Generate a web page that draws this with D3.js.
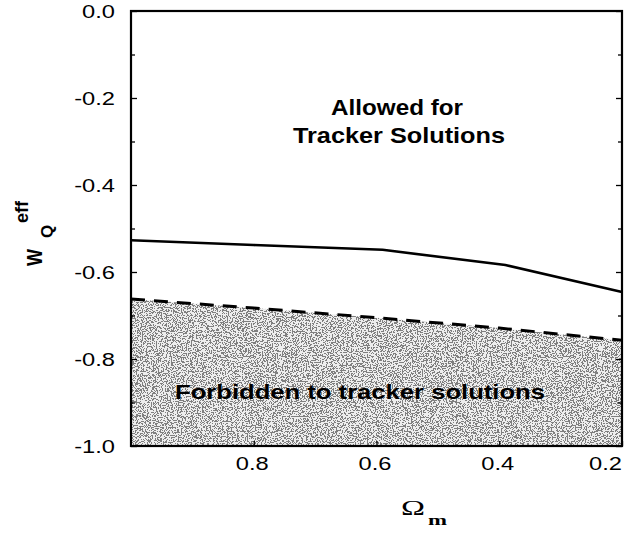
<!DOCTYPE html>
<html><head><meta charset="utf-8">
<script src="https://cdn.jsdelivr.net/npm/d3@7"></script>
<style>body{margin:0;background:#fff}svg{display:block}</style>
</head><body>
<svg id="c" width="626" height="537"></svg>
<script>
// ---- data ----
const solidOmega = [1.0, 0.8, 0.59, 0.39, 0.2];
const solidW     = [-0.527, -0.538, -0.549, -0.584, -0.646];
const dashOmega  = [1.0, 0.8, 0.6, 0.4, 0.2];
const dashW      = [-0.662, -0.683, -0.705, -0.729, -0.757];
const yMajorTicks = [0, -0.2, -0.4, -0.6, -0.8, -1.0];
const yTickLabels = ["0.0", "-0.2", "-0.4", "-0.6", "-0.8", "-1.0"];
const yMinorTicks = [-0.1, -0.3, -0.5, -0.7, -0.9];
const xTicks = [0.8, 0.6, 0.4, 0.2];
const xTickLabels = ["0.8", "0.6", "0.4", "0.2"];
const allowedText = ["Allowed for", "Tracker Solutions"];
const forbiddenText = "Forbidden to tracker solutions";

const svg = d3.select("#c");
const L = 131, R = 622, T = 11, B = 446;
const x = d3.scaleLinear().domain([1.0, 0.2]).range([L, R]);
const y = d3.scaleLinear().domain([0, -1.0]).range([T, B]);

// stipple filter
const defs = svg.append("defs");
const f = defs.append("filter").attr("id","grain").attr("x",0).attr("y",0).attr("width",1).attr("height",1)
  .attr("color-interpolation-filters","sRGB");
f.append("feTurbulence").attr("type","fractalNoise").attr("baseFrequency","0.8").attr("numOctaves",3).attr("seed",11).attr("result","n");
f.append("feColorMatrix").attr("in","n").attr("type","matrix")
  .attr("values","1 0 0 0 0.03  1 0 0 0 0.03  1 0 0 0 0.03  0 0 0 0 1").attr("result","g");
const ct = f.append("feComponentTransfer").attr("in","g").attr("result","d");
["feFuncR","feFuncG","feFuncB"].forEach(fn=>ct.append(fn).attr("type","discrete").attr("tableValues","0.5 0.93"));
f.append("feComposite").attr("in","d").attr("in2","SourceGraphic").attr("operator","in");
defs.append("clipPath").attr("id","clip").append("rect").attr("x",L).attr("y",T).attr("width",R-L).attr("height",B-T);

const dashData = dashOmega.map((o,i)=>({o, w: dashW[i]}));
const solidData = solidOmega.map((o,i)=>({o, w: solidW[i]}));

// shaded forbidden region
svg.append("path").datum(dashData)
  .attr("clip-path","url(#clip)")
  .attr("d", d3.area().x(d=>x(d.o)).y0(y(-1.0)).y1(d=>y(d.w)))
  .attr("fill","#bbb").attr("filter","url(#grain)");

// lines
svg.append("path").datum(solidData)
  .attr("d", d3.line().x(d=>x(d.o)).y(d=>y(d.w)))
  .attr("fill","none").attr("stroke","#000").attr("stroke-width",2.6);
svg.append("path").datum(dashData)
  .attr("d", d3.line().x(d=>x(d.o)).y(d=>y(d.w)))
  .attr("fill","none").attr("stroke","#000").attr("stroke-width",3).attr("stroke-dasharray","14,9");

// axes
const font = "'Liberation Sans', Arial, Helvetica, sans-serif";
const yAx = svg.append("g").attr("transform",`translate(${L},0)`)
  .call(d3.axisLeft(y).tickValues(yMajorTicks).tickSize(-6).tickPadding(16)
    .tickFormat((d,i)=>yTickLabels[i]));
svg.append("g").attr("transform",`translate(${L},0)`)
  .call(d3.axisLeft(y).tickValues(yMinorTicks).tickSize(-4).tickFormat(""));
svg.append("g").attr("transform",`translate(${R},0)`)
  .call(d3.axisRight(y).tickValues(yMajorTicks).tickSize(-6).tickFormat(""));
svg.append("g").attr("transform",`translate(${R},0)`)
  .call(d3.axisRight(y).tickValues(yMinorTicks).tickSize(-4).tickFormat(""));
const xAx = svg.append("g").attr("transform",`translate(0,${B})`)
  .call(d3.axisBottom(x).tickValues(xTicks).tickSize(-5).tickPadding(11)
    .tickFormat((d,i)=>xTickLabels[i]));
svg.selectAll(".domain").remove();
svg.selectAll(".tick line").attr("stroke","#000").attr("stroke-width",1.3);
const sx = 1.28;
yAx.selectAll("text").attr("font-family",font).attr("font-size",18.5).attr("fill","#000")
  .attr("x",0).attr("dy","0.34em").attr("transform",`translate(-16,0) scale(${sx},1)`);
xAx.selectAll("text").attr("font-family",font).attr("font-size",18.5).attr("fill","#000")
  .attr("y",0).attr("dy","0.71em")
  .attr("transform",(d,i)=>`translate(${i===xTicks.length-1 ? -17 : -2},11) scale(${sx},1)`);

// frame
svg.append("rect").attr("x",L).attr("y",T).attr("width",R-L).attr("height",B-T)
  .attr("fill","none").attr("stroke","#000").attr("stroke-width",2.2);

// annotations
svg.append("text").attr("x",397).attr("y",115).attr("text-anchor","middle")
  .attr("font-family",font).attr("font-weight","bold").attr("font-size",22)
  .attr("textLength",132).attr("lengthAdjust","spacingAndGlyphs").text(allowedText[0]);
svg.append("text").attr("x",399).attr("y",143).attr("text-anchor","middle")
  .attr("font-family",font).attr("font-weight","bold").attr("font-size",22)
  .attr("textLength",212).attr("lengthAdjust","spacingAndGlyphs").text(allowedText[1]);
svg.append("text").attr("x",175).attr("y",399)
  .attr("font-family",font).attr("font-weight","bold").attr("font-size",21)
  .attr("textLength",370).attr("lengthAdjust","spacingAndGlyphs").text(forbiddenText);

// x label
svg.append("text").attr("x",401).attr("y",515)
  .attr("font-family","'Liberation Serif', 'Times New Roman', serif").attr("font-size",22)
  .attr("textLength",24).attr("lengthAdjust","spacingAndGlyphs").text("Ω");
svg.append("text").attr("x",428).attr("y",525)
  .attr("font-family","'Liberation Serif', 'Times New Roman', serif").attr("font-weight","bold").attr("font-size",15)
  .attr("textLength",19).attr("lengthAdjust","spacingAndGlyphs").text("m");

// y label
const yl = svg.append("g").attr("transform","translate(42,266) rotate(-90)")
  .attr("font-family",font).attr("font-weight","bold");
yl.append("text").attr("x",0).attr("y",0).attr("font-size",22).attr("textLength",17).attr("lengthAdjust","spacingAndGlyphs").text("W");
yl.append("text").attr("x",28).attr("y",11).attr("font-size",17).text("Q");
yl.append("text").attr("x",43).attr("y",-14).attr("font-size",18).text("eff");
</script>
</body></html>
